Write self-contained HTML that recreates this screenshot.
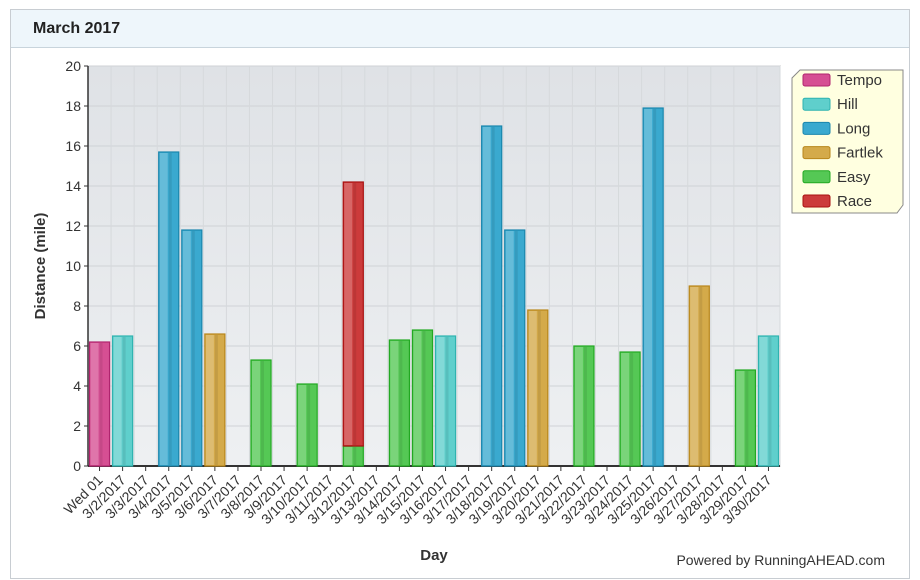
<!DOCTYPE html>
<html><head><meta charset="utf-8"><style>
body{margin:0;width:920px;height:580px;background:#fff;font-family:"Liberation Sans",sans-serif;overflow:hidden}
#frame{position:absolute;left:10px;top:9px;width:898px;height:568px;border:1px solid #c8cdd2;background:#fff}
#hdr{position:absolute;left:0;top:0;width:898px;height:38px;background:#eef6fb;border-bottom:1px solid #c8d4dc;font-weight:bold;font-size:16px;line-height:38px;padding-left:22px;box-sizing:border-box;color:#222}
svg{position:absolute;left:0;top:0}
</style></head><body>
<div id="frame"><div id="hdr">March 2017</div></div>
<svg id="chart" width="920" height="580">
<defs>
<linearGradient id="bg" x1="0" y1="0" x2="0" y2="1"><stop offset="0" stop-color="#dfe2e6"/><stop offset="1" stop-color="#eef0f2"/></linearGradient>
</defs>
</svg>
<script>
const days=["Wed 01","3/2/2017","3/3/2017","3/4/2017","3/5/2017","3/6/2017","3/7/2017","3/8/2017","3/9/2017","3/10/2017","3/11/2017","3/12/2017","3/13/2017","3/14/2017","3/15/2017","3/16/2017","3/17/2017","3/18/2017","3/19/2017","3/20/2017","3/21/2017","3/22/2017","3/23/2017","3/24/2017","3/25/2017","3/26/2017","3/27/2017","3/28/2017","3/29/2017","3/30/2017"];
const types=["Tempo","Hill","Long","Fartlek","Easy","Race"];
const tempo=[6.2,0,0,0,0,0,0,0,0,0,0,0,0,0,0,0,0,0,0,0,0,0,0,0,0,0,0,0,0,0];
const hill=[0,6.5,0,0,0,0,0,0,0,0,0,0,0,0,0,6.5,0,0,0,0,0,0,0,0,0,0,0,0,0,6.5];
const long=[0,0,0,15.7,11.8,0,0,0,0,0,0,0,0,0,0,0,0,17.0,11.8,0,0,0,0,0,17.9,0,0,0,0,0];
const fartlek=[0,0,0,0,0,6.6,0,0,0,0,0,0,0,0,0,0,0,0,0,7.8,0,0,0,0,0,0,9.0,0,0,0];
const easy=[0,0,0,0,0,0,0,5.3,0,4.1,0,1.0,0,6.3,6.8,0,0,0,0,0,0,6.0,0,5.7,0,0,0,0,4.8,0];
const race=[0,0,0,0,0,0,0,0,0,0,0,13.2,0,0,0,0,0,0,0,0,0,0,0,0,0,0,0,0,0,0];
const yTicks=[0,2,4,6,8,10,12,14,16,18,20];
const series=[easy,tempo,hill,long,fartlek,race];
const seriesTypes=["Easy","Tempo","Hill","Long","Fartlek","Race"];
const fill={Tempo:"#d64f93",Hill:"#5fcfcc",Long:"#3aa9cf",Fartlek:"#d4aa4a",Easy:"#55c855",Race:"#cc3b3b"};
const stroke={Tempo:"#b0246e",Hill:"#2fb3b0",Long:"#1a86ad",Fartlek:"#b8861a",Easy:"#22a822",Race:"#a81010"};
const L=88,R=780,T=66,B=466,yMax=20;
const step=(R-L)/days.length;
const y=v=>B-(v/yMax)*(B-T);
const x=i=>L+step*i;
const svg=document.getElementById('chart');
const NS="http://www.w3.org/2000/svg";
function mk(t,a,p){const e=document.createElementNS(NS,t);for(const k in a)e.setAttribute(k,a[k]);(p||svg).appendChild(e);return e;}
let bg=mk('rect',{x:L,y:T,width:R-L,height:B-T,fill:'url(#bg)',stroke:'#999'});


yTicks.forEach(v=>{
 mk('line',{x1:L,x2:R,y1:y(v),y2:y(v),stroke:'#cfd2d6'});
 mk('line',{x1:L-4,x2:L,y1:y(v),y2:y(v),stroke:'#333'});
 let t=mk('text',{x:L-7,y:y(v)+5,'text-anchor':'end','font-size':14,fill:'#333'});
 t.textContent=v;
 
 
});
days.forEach((d,i)=>{
 mk('line',{x1:x(i+1),x2:x(i+1),y1:T,y2:B,stroke:'#d6d9dc'});
 const cx=x(i)+step/2;
 mk('line',{x1:cx,x2:cx,y1:B,y2:B+5,stroke:'#333'});
 let t=mk('text',{x:cx+4,y:B+15,'text-anchor':'end','font-size':14,fill:'#333',transform:`rotate(-45 ${cx+4} ${B+15})`});
 t.textContent=d;
 
 
});
mk('line',{x1:L,x2:R,y1:B,y2:B,stroke:'#333','stroke-width':2});
mk('line',{x1:L,x2:L,y1:T,y2:B,stroke:'#333','stroke-width':1.5});
const base=new Array(days.length).fill(0);
series.forEach((s,si)=>{
 const ty=seriesTypes[si];
 s.forEach((v,i)=>{
  if(!v)return;
  const y0=base[i],y1=y0+v;base[i]=y1;
  const bx=x(i)+1.5,bw=step-3;
  let r=mk('rect',{x:bx,y:y(y1),width:bw,height:y(y0)-y(y1),fill:fill[ty],stroke:stroke[ty],'stroke-width':1.2});
  
  
  mk('rect',{x:bx+1,y:y(y1)+1,width:bw*0.4,height:Math.max(0,y(y0)-y(y1)-2),fill:'#fff',opacity:0.22});
  mk('rect',{x:bx+bw*0.5,y:y(y1)+1,width:bw*0.15,height:Math.max(0,y(y0)-y(y1)-2),fill:'#000',opacity:0.08});
 });
});
let yt=mk('text',{x:45,y:266,'text-anchor':'middle','font-size':15,'font-weight':'bold',fill:'#333',transform:'rotate(-90 45 266)'});
yt.textContent='Distance (mile)';


let xt=mk('text',{x:434,y:560,'text-anchor':'middle','font-size':15,'font-weight':'bold',fill:'#333'});
xt.textContent='Day';


let pw=mk('text',{x:885,y:565,'text-anchor':'end','font-size':14,fill:'#333'});
pw.textContent='Powered by RunningAHEAD.com';


let lg=mk('path',{d:'M800 70 H903 V205 L897 213 H792 V78 Z',fill:'#ffffe0',stroke:'#888'});


types.forEach((ty,k)=>{
 const ly=80+k*24.2;
 let r=mk('rect',{x:803,y:ly-6,width:27,height:12,rx:2,fill:fill[ty],stroke:stroke[ty]});
 
 
 let t=mk('text',{x:837,y:ly+5,'font-size':15,fill:'#333'});
 t.textContent=ty;
 
 
});
</script>
</body></html>
